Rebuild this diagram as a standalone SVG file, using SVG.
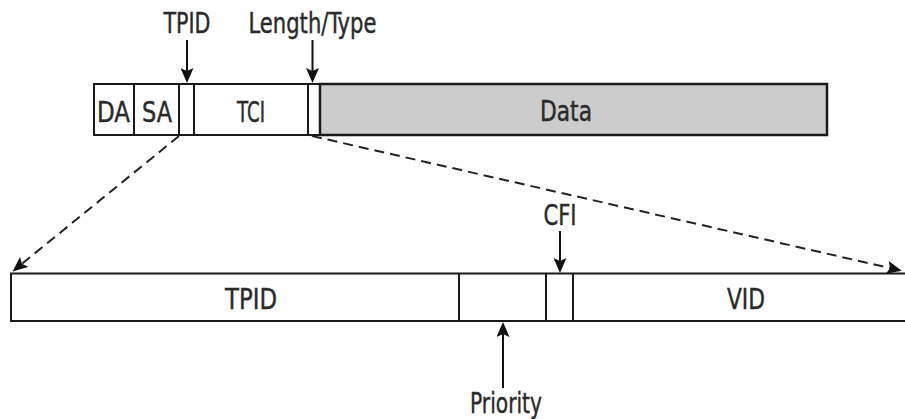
<svg xmlns="http://www.w3.org/2000/svg" width="905" height="419" viewBox="0 0 905 419">
<style>
.box{fill:#fff;stroke:#1a1a1a;stroke-width:2}
.data{fill:#cccccc;stroke:#1a1a1a;stroke-width:2.5}
.div{stroke:#1a1a1a;stroke-width:2;fill:none}
.lbl{font-family:"Liberation Sans Narrow","DejaVu Sans Condensed","Liberation Sans",sans-serif;font-size:28px;fill:#2a2a2a;stroke:#2a2a2a;stroke-width:0.4;text-anchor:middle}
.arr{stroke:#111;stroke-width:2;fill:none}
.dash{stroke:#222;stroke-width:2;fill:none;stroke-dasharray:10 6}
</style>
<defs>
<marker id="ah" viewBox="0 0 15 13" refX="8" refY="6.5" markerWidth="15" markerHeight="13" markerUnits="userSpaceOnUse" orient="auto">
<path d="M0,0 L15,6.5 L0,13 L3,6.5 z" fill="#111"/>
</marker>
</defs>
<g id="frame-top">
<rect class="box" x="94" y="84" width="226" height="51"/>
<rect class="data" x="320" y="84" width="507" height="51"/>
<line class="div" x1="134" y1="84" x2="134" y2="135"/>
<line class="div" x1="179" y1="84" x2="179" y2="135"/>
<line class="div" x1="194" y1="84" x2="194" y2="135"/>
<line class="div" x1="308" y1="84" x2="308" y2="135"/>
<text class="lbl" x="113.5" y="122" textLength="33" lengthAdjust="spacingAndGlyphs">DA</text>
<text class="lbl" x="157" y="122" textLength="30" lengthAdjust="spacingAndGlyphs">SA</text>
<text class="lbl" x="251" y="122" textLength="28" lengthAdjust="spacingAndGlyphs">TCI</text>
<text class="lbl" x="566" y="121" textLength="52" lengthAdjust="spacingAndGlyphs">Data</text>
</g>
<g id="label-tpid-top">
<text class="lbl" x="187" y="33" textLength="47" lengthAdjust="spacingAndGlyphs">TPID</text>
</g>
<g id="label-length-type">
<text class="lbl" x="312.5" y="33" textLength="128" lengthAdjust="spacingAndGlyphs">Length/Type</text>
</g>
<g id="frame-bottom">
<rect class="box" x="11" y="273.5" width="910" height="47.5"/>
<line class="div" x1="459" y1="273.5" x2="459" y2="321"/>
<line class="div" x1="546" y1="273.5" x2="546" y2="321"/>
<line class="div" x1="573" y1="273.5" x2="573" y2="321"/>
<text class="lbl" x="251" y="309" textLength="52" lengthAdjust="spacingAndGlyphs">TPID</text>
<text class="lbl" x="746" y="309" textLength="38" lengthAdjust="spacingAndGlyphs">VID</text>
</g>
<g id="label-cfi">
<text class="lbl" x="560" y="225" textLength="33" lengthAdjust="spacingAndGlyphs">CFI</text>
</g>
<g id="label-priority">
<text class="lbl" x="506" y="413" textLength="72" lengthAdjust="spacingAndGlyphs">Priority</text>
</g>
<g id="connectors">
<line class="arr" x1="187" y1="40" x2="187" y2="76" marker-end="url(#ah)"/>
<line class="arr" x1="312.5" y1="40" x2="312.5" y2="76" marker-end="url(#ah)"/>
<line class="arr" x1="560" y1="231" x2="560" y2="266" marker-end="url(#ah)"/>
<line class="arr" x1="503" y1="388" x2="503" y2="329" marker-end="url(#ah)"/>
<line class="dash" x1="179" y1="136" x2="18" y2="267" marker-end="url(#ah)"/>
<line class="dash" x1="312" y1="136" x2="895" y2="269.2" marker-end="url(#ah)"/>
</g>
</svg>
